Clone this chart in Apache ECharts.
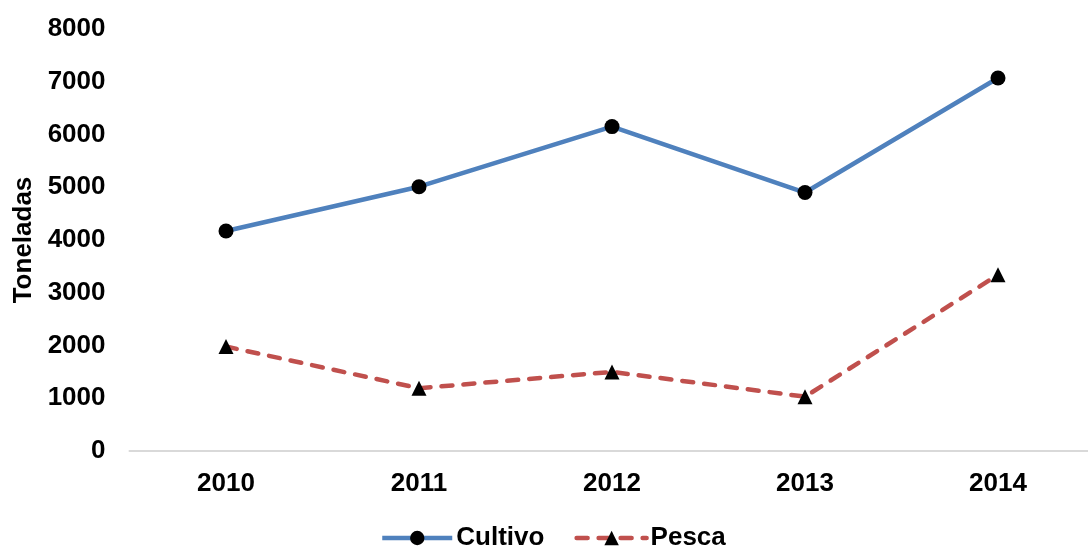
<!DOCTYPE html>
<html>
<head>
<meta charset="utf-8">
<script src="https://cdn.jsdelivr.net/npm/echarts@6/dist/echarts.min.js"></script>
<style>
  html, body { margin: 0; padding: 0; background: #ffffff; }
  #chart { width: 1088px; height: 546px; }
</style>
</head>
<body>
<div id="chart"></div>
<script>
// Production by year, in tonnes
const years = ['2010', '2011', '2012', '2013', '2014'];
const cultivo = [4170, 5010, 6150, 4900, 7070];
const pesca = [1980, 1190, 1500, 1030, 3340];
const yTicks = [0, 1000, 2000, 3000, 4000, 5000, 6000, 7000, 8000];

const FONT = '"Liberation Sans", Arial, sans-serif';
const FS = 26;
const BLUE = '#4F81BD';
const RED = '#C0504D';

const chart = echarts.init(document.getElementById('chart'), null, { renderer: 'canvas' });

chart.setOption({
  backgroundColor: '#ffffff',
  animation: false,
  textStyle: { fontFamily: FONT },
  grid: {
    left: 129.5, right: -6.5, top: 29, bottom: 95,
    containLabel: false,
    outerBoundsMode: 'none'
  },
  legend: {
    left: 380,
    top: 525,
    padding: 0,
    itemWidth: 70,
    itemHeight: 18,
    itemGap: 30,
    lineStyle: { width: 4.5 },
    textStyle: { fontFamily: FONT, fontSize: FS, fontWeight: 'bold', color: '#000000', padding: [0, 0, 0, -1] },
    data: ['Cultivo', 'Pesca']
  },
  xAxis: {
    type: 'category',
    data: years,
    boundaryGap: true,
    axisLine: { show: true, lineStyle: { color: '#d9d9d9', width: 2 } },
    axisTick: { show: false },
    axisLabel: { fontFamily: FONT, fontSize: FS, fontWeight: 'bold', color: '#000000', margin: 20 },
    splitLine: { show: false }
  },
  yAxis: {
    type: 'value',
    min: yTicks[0],
    max: yTicks[yTicks.length - 1],
    interval: 1000,
    name: 'Toneladas',
    nameLocation: 'middle',
    nameRotate: 90,
    nameGap: 90,
    nameTextStyle: { fontFamily: FONT, fontSize: FS, fontWeight: 'bold', color: '#000000' },
    axisLine: { show: false },
    axisTick: { show: false },
    splitLine: { show: false },
    axisLabel: {
      fontFamily: FONT, fontSize: FS, fontWeight: 'bold', color: '#000000', margin: 24,
      formatter: (v) => String(v)
    }
  },
  series: [
    {
      name: 'Cultivo',
      type: 'line',
      data: cultivo,
      symbol: 'circle',
      symbolSize: 15,
      itemStyle: { color: '#000000' },
      lineStyle: { color: BLUE, width: 4.5 },
      z: 3
    },
    {
      name: 'Pesca',
      type: 'line',
      data: pesca,
      symbol: 'triangle',
      symbolSize: 15,
      itemStyle: { color: '#000000' },
      lineStyle: { color: RED, width: 4.5, type: [11, 11], cap: 'round' },
      z: 2
    }
  ]
});
</script>
</body>
</html>
